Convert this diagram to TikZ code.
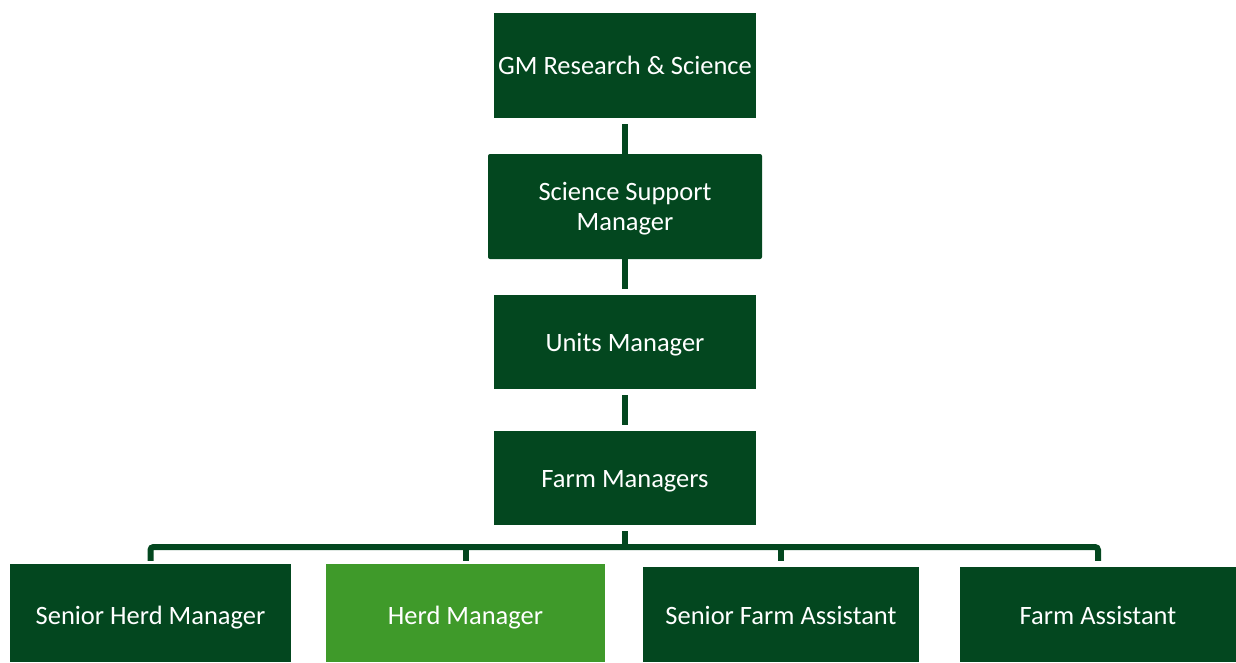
\documentclass[tikz,border=0pt]{standalone}
\usepackage{fontspec}
\setmainfont{Carlito}
\definecolor{dkgreen}{HTML}{03471F}
\definecolor{ltgreen}{HTML}{3F9A2A}
\begin{document}
\begin{tikzpicture}[x=1pt,y=1pt,
  box/.style={draw=none,fill=dkgreen,text=white,align=center,inner sep=0pt,
    font=\fontsize{26.5}{30}\selectfont},
  one/.style={text height=24pt,text depth=6pt},
  low/.style={text height=28pt,text depth=6pt},
  conn/.style={draw=dkgreen,line width=6pt}]
\useasboundingbox (0,0) rectangle (1236,-662);
\node[box,minimum width=262,minimum height=105] (gm) at (625,-65.5) {GM Research \& Science};
\node[box,minimum width=274,minimum height=105,rounded corners=2pt] (ssm) at (625,-206.5) {\rule{0pt}{22pt}Science Support\\Manager};
\node[box,one,minimum width=262,minimum height=94] (um) at (625,-342) {Units Manager};
\node[box,one,minimum width=262,minimum height=94] (fm) at (625,-478) {Farm Managers};
\node[box,low,minimum width=281,minimum height=98] (shm) at (150.5,-613) {Senior Herd Manager};
\node[box,low,fill=ltgreen,minimum width=279,minimum height=98] (hm) at (465.5,-613) {Herd Manager};
\node[box,text height=26pt,text depth=6pt,minimum width=276,minimum height=95] (sfa) at (781,-614.5) {Senior Farm Assistant};
\node[box,text height=26pt,text depth=6pt,minimum width=276,minimum height=95] (fa) at (1098,-614.5) {Farm Assistant};
\coordinate (bar) at (625,-547);
\draw[conn,shorten <=6pt] (gm) -- (ssm);
\draw[conn,shorten >=6pt] (ssm) -- (um);
\draw[conn,shorten <=6pt,shorten >=6pt] (um) -- (fm);
\draw[conn,shorten <=6pt] (fm.south) -- (bar);
\draw[conn,rounded corners=3pt] ([yshift=3pt]shm.north) |- (bar) -| ([yshift=6pt]fa.north);
\draw[conn] (hm.north |- bar) -- ([yshift=3pt]hm.north);
\draw[conn] (sfa.north |- bar) -- ([yshift=6pt]sfa.north);
\end{tikzpicture}
\end{document}
